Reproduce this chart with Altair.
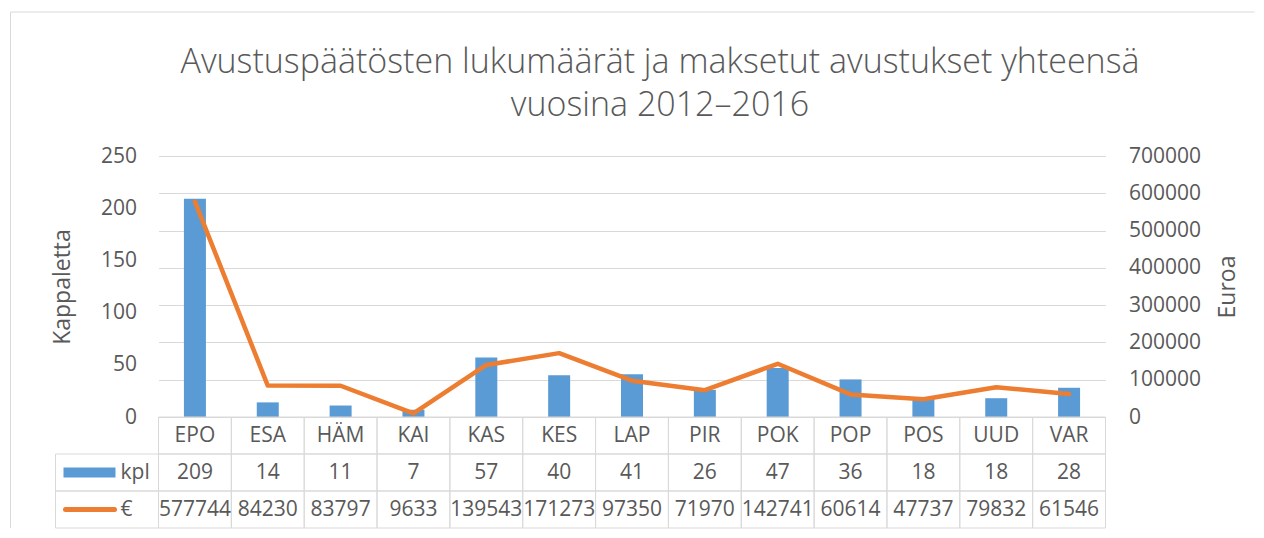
import altair as alt
import pandas as pd

# ---- data ----
cats = ["EPO", "ESA", "HÄM", "KAI", "KAS", "KES", "LAP", "PIR", "POK", "POP", "POS", "UUD", "VAR"]
kpl = [209, 14, 11, 7, 57, 40, 41, 26, 47, 36, 18, 18, 28]
eur = [577744, 84230, 83797, 9633, 139543, 171273, 97350, 71970, 142741, 60614, 47737, 79832, 61546]
rows = ["cat", "kpl", "eur"]
legend_rows = ["kpl", "eur"]
legend_labels = ["kpl", "€"]
title_lines = ["Avustuspäätösten lukumäärät ja maksetut avustukset yhteensä", "vuosina 2012–2016"]
left_ticks = [0, 50, 100, 150, 200, 250]
right_ticks = [0, 100000, 200000, 300000, 400000, 500000, 600000, 700000]

# ---- style ----
W, H, TH = 947, 261, 111
FONT = "Open Sans"
TXT = "#595959"
GRID = "#d9d9d9"
BLUE = "#5B9BD5"
ORANGE = "#ED7D31"
FS = 21
TFS = 23

df = pd.DataFrame({"cat": cats, "kpl": kpl, "eur": eur})
tdf = pd.DataFrame(
    [{"cat": c, "row": "cat", "label": c} for c in cats]
    + [{"cat": c, "row": "kpl", "label": str(k)} for c, k in zip(cats, kpl)]
    + [{"cat": c, "row": "eur", "label": str(e)} for c, e in zip(cats, eur)]
)
ldf = pd.DataFrame({"row": legend_rows, "label": legend_labels})
fdf = pd.DataFrame({"f": [0]})

xscale = alt.Scale(type="band", paddingInner=0, paddingOuter=0)


def xenc(center=False):
    if center:
        return alt.X("cat:N", sort=cats, scale=xscale, axis=None, bandPosition=0.5)
    return alt.X("cat:N", sort=cats, scale=xscale, axis=None)


yscale_t = alt.Scale(type="band", domain=rows, range=[H, H + TH], paddingInner=0, paddingOuter=0)


def yenc_t(center=False):
    if center:
        return alt.Y("row:N", sort=rows, scale=yscale_t, axis=None, bandPosition=0.5)
    return alt.Y("row:N", sort=rows, scale=yscale_t, axis=None)


bars = alt.Chart(df).mark_bar(color=BLUE, size=22).encode(
    x=xenc(),
    y=alt.Y(
        "kpl:Q",
        scale=alt.Scale(domain=[0, 250], nice=False),
        axis=alt.Axis(
            orient="left", values=left_ticks, grid=False, domain=False, ticks=False, tickSize=0,
            labelFont=FONT, labelFontSize=FS, labelColor=TXT, labelPadding=22,
            title="Kappaletta", titleFont=FONT, titleFontSize=TFS, titleFontWeight="normal",
            titleColor=TXT, titlePadding=26,
        ),
    ),
)

line = alt.Chart(df).mark_line(color=ORANGE, strokeWidth=4.5, strokeCap="round", strokeJoin="round").encode(
    x=xenc(True),
    y=alt.Y(
        "eur:Q",
        scale=alt.Scale(domain=[0, 700000], nice=False),
        axis=alt.Axis(
            orient="right", values=right_ticks, format="d", grid=True, gridColor=GRID, gridWidth=1,
            domain=False, ticks=False, tickSize=0,
            labelFont=FONT, labelFontSize=FS, labelColor=TXT, labelPadding=23,
            title="Euroa", titleFont=FONT, titleFontSize=TFS, titleFontWeight="normal",
            titleColor=TXT, titlePadding=16, titleAngle=270, titleBaseline="top",
        ),
    ),
)

cells = alt.Chart(tdf).mark_rect(fillOpacity=0, stroke=GRID, strokeWidth=1).encode(x=xenc(), y=yenc_t())
label_cells = alt.Chart(ldf).mark_rect(fillOpacity=0, stroke=GRID, strokeWidth=1).encode(
    x=alt.value(-103), x2=alt.value(0), y=yenc_t()
)
cell_text = alt.Chart(tdf).mark_text(font=FONT, fontSize=FS, color=TXT, baseline="middle").encode(
    x=xenc(True), y=yenc_t(True), text="label:N"
)
sw_bar = alt.Chart(ldf).transform_filter(alt.datum.row == "kpl").mark_rule(color=BLUE, strokeWidth=10).encode(
    x=alt.value(-95), x2=alt.value(-43), y=yenc_t(True)
)
sw_line = alt.Chart(ldf).transform_filter(alt.datum.row == "eur").mark_rule(
    color=ORANGE, strokeWidth=5, strokeCap="round"
).encode(x=alt.value(-93), x2=alt.value(-44), y=yenc_t(True))
leg_text = alt.Chart(ldf).mark_text(font=FONT, fontSize=FS, color=TXT, align="left", baseline="middle").encode(
    x=alt.value(-38), y=yenc_t(True), text="label:N"
)
frame_l = alt.Chart(fdf).mark_rule(color=GRID, strokeWidth=1).encode(
    x=alt.value(-148), y=alt.value(-144), y2=alt.value(H + TH)
)
frame_t = alt.Chart(fdf).mark_rule(color=GRID, strokeWidth=1).encode(
    x=alt.value(-148), x2=alt.value(1096), y=alt.value(-144)
)

table = alt.layer(cells, label_cells, cell_text, sw_bar, sw_line, leg_text, frame_l, frame_t)

chart = (
    alt.layer(bars, line, table)
    .resolve_scale(y="independent")
    .properties(
        width=W,
        height=H,
        padding={"left": 1.5, "top": 3, "right": 0, "bottom": 0},
        title=alt.TitleParams(
            text=title_lines, font=FONT, fontSize=34, fontWeight=300, color=TXT,
            anchor="middle", dx=28, offset=-111, lineHeight=43,
        ),
        background="white",
    )
    .configure_view(stroke=None)
)

chart.save("out.html", embed_options={"renderer": "svg", "actions": False})
